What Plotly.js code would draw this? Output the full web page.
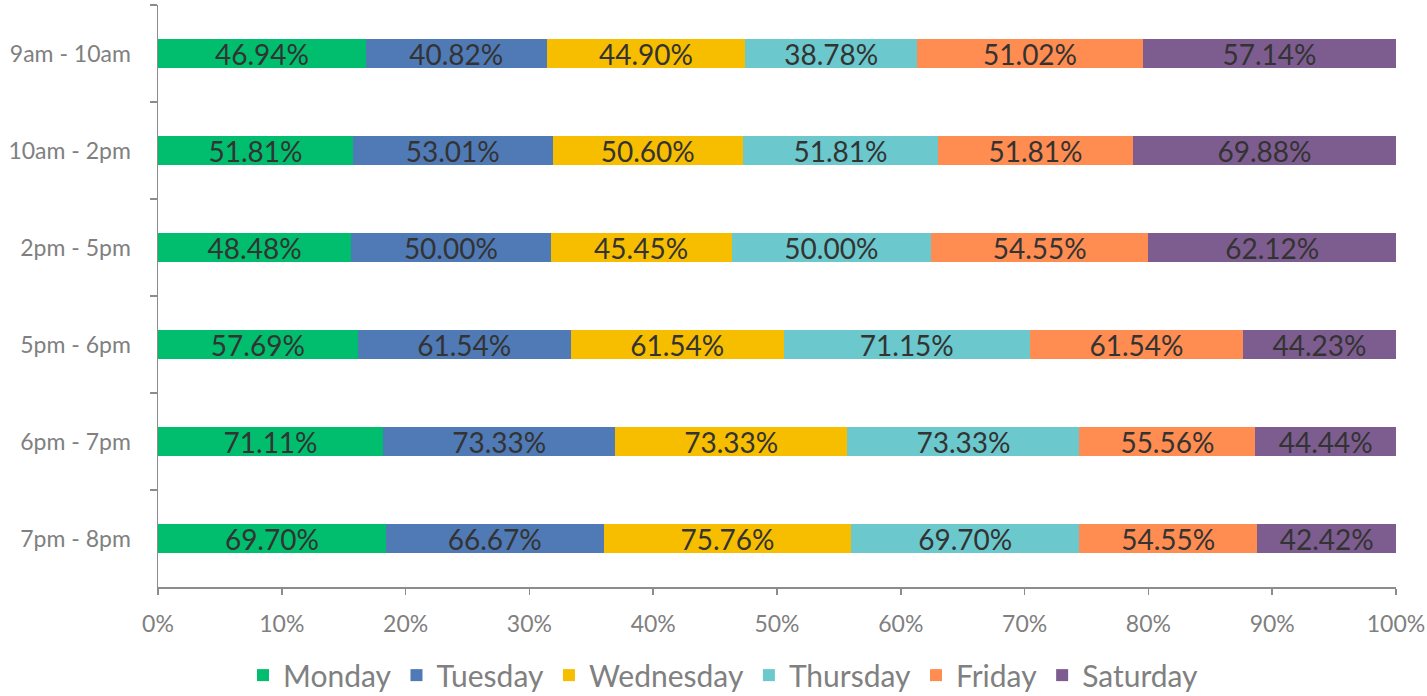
<!DOCTYPE html>
<html>
<head>
<meta charset="utf-8">
<script src="https://cdn.plot.ly/plotly-3.0.1.min.js"></script>
<style>html,body{margin:0;padding:0;background:#fff;}#chart{width:1427px;height:696px;}</style>
</head>
<body>
<div id="chart"></div>
<script>
var categories = ["9am - 10am", "10am - 2pm", "2pm - 5pm", "5pm - 6pm", "6pm - 7pm", "7pm - 8pm"];
var monday    = [46.94, 51.81, 48.48, 57.69, 71.11, 69.70];
var tuesday   = [40.82, 53.01, 50.00, 61.54, 73.33, 66.67];
var wednesday = [44.90, 50.60, 45.45, 61.54, 73.33, 75.76];
var thursday  = [38.78, 51.81, 50.00, 71.15, 73.33, 69.70];
var friday    = [51.02, 51.81, 54.55, 61.54, 55.56, 54.55];
var saturday  = [57.14, 69.88, 62.12, 44.23, 44.44, 42.42];
var xTickVals = [0, 0.1, 0.2, 0.3, 0.4, 0.5, 0.6, 0.7, 0.8, 0.9, 1.0];
var xTickText = ["0%", "10%", "20%", "30%", "40%", "50%", "60%", "70%", "80%", "90%", "100%"];

var seriesNames = ["Monday", "Tuesday", "Wednesday", "Thursday", "Friday", "Saturday"];
var seriesVals = [monday, tuesday, wednesday, thursday, friday, saturday];
var colors = ["#00BE6E", "#4F7AB5", "#F7BE00", "#6BC8CC", "#FF8C50", "#7D5D8F"];
var FONT = "Lato, 'Open Sans', sans-serif";

var traces = seriesNames.map(function(n, i) {
  return {
    type: "bar",
    orientation: "h",
    name: n,
    y: categories,
    x: seriesVals[i],
    text: seriesVals[i].map(function(v){ return v.toFixed(2) + "%"; }),
    textposition: "inside",
    insidetextanchor: "middle",
    textangle: 0,
    constraintext: "none",
    insidetextfont: {family: FONT, size: 28, color: "#333333"},
    marker: {color: colors[i], line: {width: 0}},
    hoverinfo: "name+text"
  };
});

var layout = {
  width: 1427, height: 696,
  barmode: "stack",
  barnorm: "fraction",
  bargap: 0.71,
  margin: {l: 158, r: 31, t: 5, b: 109, autoexpand: false},
  paper_bgcolor: "#fff", plot_bgcolor: "#fff",
  font: {family: FONT, color: "#808080"},
  xaxis: {
    range: [0, 1],
    tickvals: xTickVals, ticktext: xTickText,
    showgrid: false, zeroline: false,
    showline: true, linecolor: "#8c8c8c", linewidth: 1.5,
    ticks: "outside", ticklen: 6, tickcolor: "#8c8c8c", tickwidth: 1.5,
    tickfont: {family: FONT, size: 23, color: "#808080"},
    ticklabelstandoff: 10,
    automargin: false,
    fixedrange: true
  },
  yaxis: {
    autorange: "reversed",
    type: "category",
    showgrid: false, zeroline: false,
    showline: true, linecolor: "#8c8c8c", linewidth: 1.5,
    ticks: "outside", ticklen: 7, tickcolor: "#8c8c8c", tickwidth: 1.5,
    tickson: "boundaries",
    tickfont: {family: FONT, size: 23, color: "#808080"},
    ticklabelstandoff: 21,
    automargin: false,
    fixedrange: true
  },
  showlegend: true,
  legend: {
    orientation: "h",
    xref: "container", yref: "container",
    x: 0.507, xanchor: "center",
    y: 0.03, yanchor: "middle",
    font: {family: FONT, size: 30, color: "#808080"},
    traceorder: "normal",
    itemwidth: 30,
    tracegroupgap: 0
  }
};

Plotly.newPlot("chart", traces, layout, {displayModeBar: false, staticPlot: true});
</script>
</body>
</html>
